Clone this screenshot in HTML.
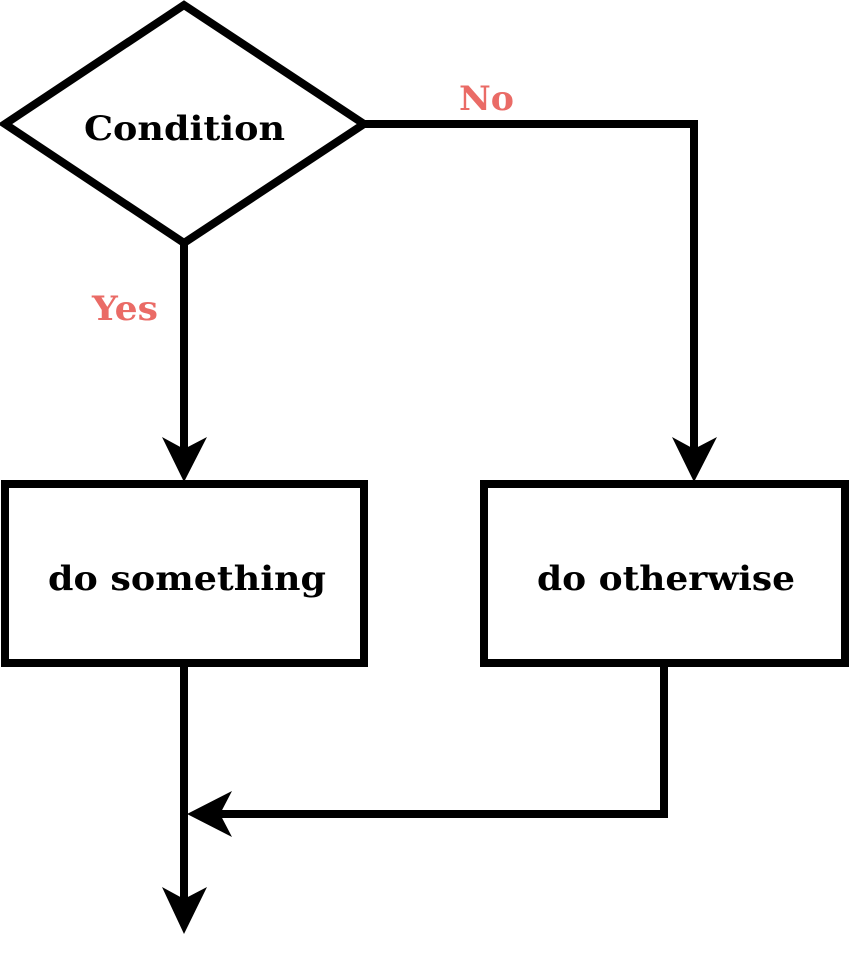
<!DOCTYPE html>
<html><head><meta charset="utf-8"><style>html,body{margin:0;padding:0;background:#fff}svg{display:block}</style></head>
<body>
<svg width="849" height="963" viewBox="0 0 849 963" xmlns="http://www.w3.org/2000/svg">
<g fill="none" stroke="#000" stroke-width="8">
<polygon points="5,124 184,5 364,124 184,243" fill="#fff"/>
<rect x="5" y="484" width="359" height="179" fill="#fff"/>
<rect x="484" y="484" width="361" height="179" fill="#fff"/>
<polyline points="184,243 184,450"/>
<polyline points="364,124 694,124 694,450"/>
<polyline points="184,663 184,900"/>
<polyline points="664,663 664,814 220,814"/>
</g>
<g fill="#000">
<polygon points="184,482 162,437 184,449 207,437"/>
<polygon points="694,482 672,437 694,449 717,437"/>
<polygon points="184,934 162,887 184,899 207,887"/>
<polygon points="187,814 232,791 220,814 232,837"/>
</g>
<g font-family="'DejaVu Serif','Liberation Serif',serif" font-weight="bold" font-size="34">
<text x="84" y="140" textLength="201" lengthAdjust="spacingAndGlyphs">Condition</text>
<text x="48" y="590" textLength="278" lengthAdjust="spacingAndGlyphs">do something</text>
<text x="537" y="590" textLength="258" lengthAdjust="spacingAndGlyphs">do otherwise</text>
<text x="92" y="320" fill="#EA6B66" textLength="66" lengthAdjust="spacingAndGlyphs">Yes</text>
<text x="459" y="110" fill="#EA6B66" textLength="55" lengthAdjust="spacingAndGlyphs">No</text>
</g>
</svg>
</body></html>
